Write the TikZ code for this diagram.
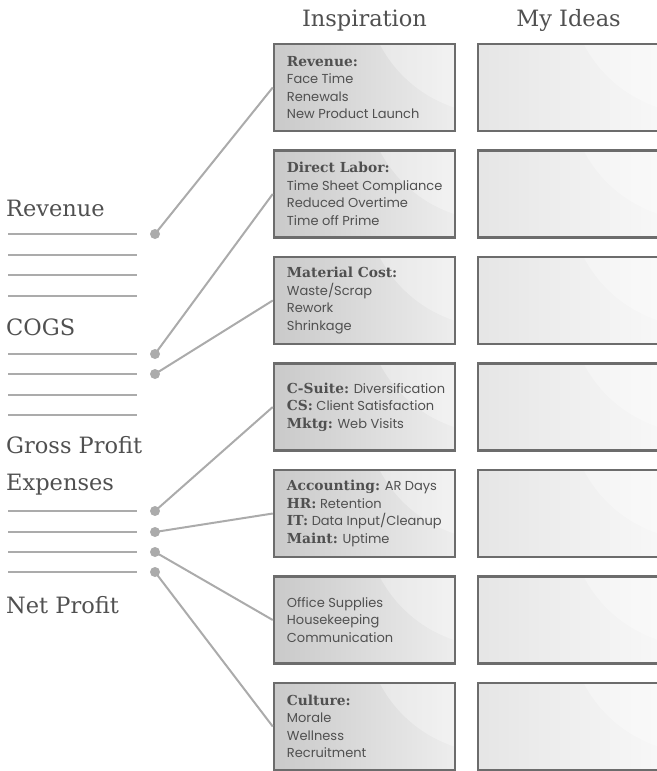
\documentclass[tikz,border=0pt]{standalone}
\usepackage{fontspec}
\setmainfont{DejaVu Serif}
\newfontfamily\listfont{Poppins}
\usetikzlibrary{positioning}
\definecolor{ink}{HTML}{505050}
\definecolor{rule}{HTML}{ABABAB}
\definecolor{frame}{HTML}{6C6C6C}
\newcommand{\head}[1]{{\rmfamily\bfseries\fontsize{13.8}{17.5}\selectfont #1}}

\begin{document}
\begin{tikzpicture}[x = 1pt, y = -1pt, font = \fontsize{22.5}{26}\selectfont, text = ink]
    \tikzset{
      insp/.style = {draw = frame, line width = 2.5pt, minimum width = 181pt, minimum height = 87pt,
        inner sep = 0pt, left color = black!21, right color = black!7,
        path picture = {\fill[white, opacity = .3] ([shift = {(40, -60)}]path picture bounding box.north east) circle (130pt);}},
      idea/.style = {insp, left color = black!10, right color = black!3},
      items/.style = {anchor = west, align = left, font = \listfont\fontsize{13}{17.5}\selectfont, inner sep = 0pt},
      heading/.style = {anchor = base},
      label/.style = {anchor = base west, inner sep = 0pt},
      dot/.style = {circle, fill = rule, inner sep = 0pt, minimum size = 10pt},
      link/.style = {draw = rule, line width = 2pt},
    }
    \useasboundingbox (0, 0) rectangle (656, 771);

    \node [heading] (inspHead) at (364.5, 26) {Inspiration};
    \node [heading] (ideaHead) at (568.5, 26) {My Ideas};

    \foreach \i in {1,...,7} {
      \node [insp] (insp\i) at (364.5, {87.5 + (\i - 1) * 106.5}) {};
      \node [idea] (idea\i) at (568.5, {87.5 + (\i - 1) * 106.5}) {};
    }

    \node [items, right = 14pt of insp1.west] (list1) {\head{Revenue:}\\Face Time\\Renewals\\New Product Launch};
    \node [items, right = 14pt of insp2.west] (list2) {\head{Direct Labor:}\\Time Sheet Compliance\\Reduced Overtime\\Time off Prime};
    \node [items, right = 14pt of insp3.west] (list3) {\head{Material Cost:}\\Waste/Scrap\\Rework\\Shrinkage};
    \node [items, right = 14pt of insp4.west] (list4) {\head{C-Suite:} Diversification\\\head{CS:} Client Satisfaction\\\head{Mktg:} Web Visits};
    \node [items, right = 14pt of insp5.west] (list5) {\head{Accounting:} AR Days\\\head{HR:} Retention\\\head{IT:} Data Input/Cleanup\\\head{Maint:} Uptime};
    \node [items, right = 14pt of insp6.west] (list6) {Office Supplies\\Housekeeping\\Communication};
    \node [items, right = 14pt of insp7.west] (list7) {\head{Culture:}\\Morale\\Wellness\\Recruitment};

    \node [label] (revenue) at (6, 216) {Revenue};
    \node [label] (cogs) at (6, 335) {COGS};
    \node [label] (gross) at (6, 453) {Gross Profit};
    \node [label] (expenses) at (6, 490) {Expenses};
    \node [label] (net) at (6, 613) {Net Profit};

    \foreach \y in {234, 255, 275, 296, 354, 374, 395, 415, 511, 532, 552, 572}
      \draw [rule, line width = 2pt] (8, \y) -- (137, \y);

    \node [dot] (rev) at (155, 234) {};
    \node [dot] (cogsA) at (155, 354) {};
    \node [dot] (cogsB) at (155, 374) {};
    \node [dot] (expA) at (155, 511) {};
    \node [dot] (expB) at (155, 532) {};
    \node [dot] (expC) at (155, 552) {};
    \node [dot] (expD) at (155, 572) {};

    \draw [link] (rev.center) -- (insp1.west);
    \draw [link] (cogsA.center) -- (insp2.west);
    \draw [link] (cogsB.center) -- (insp3.west);
    \draw [link] (expA.center) -- (insp4.west);
    \draw [link] (expB.center) -- (insp5.west);
    \draw [link] (expC.center) -- (insp6.west);
    \draw [link] (expD.center) -- (insp7.west);
  \end{tikzpicture}
\end{document}
